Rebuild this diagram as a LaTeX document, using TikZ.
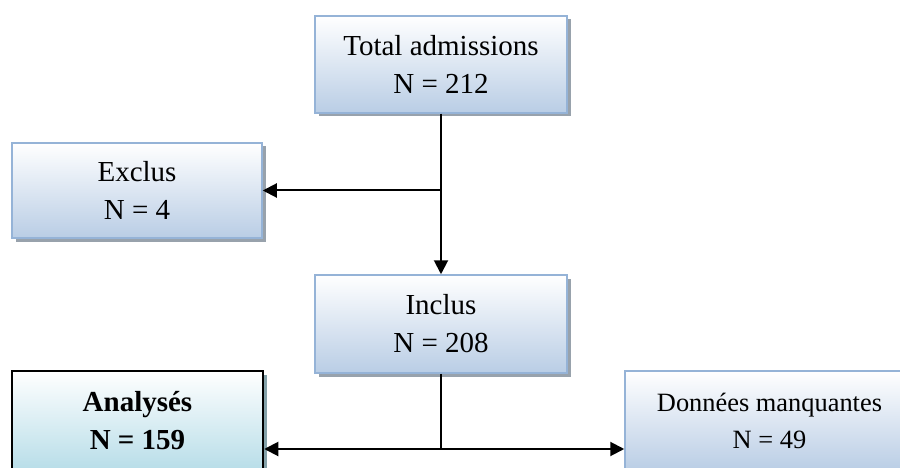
\documentclass[tikz,border=0pt]{standalone}
\usepackage{fontspec}
\setmainfont{Liberation Serif}
\usetikzlibrary{shadows,arrows.meta}

\definecolor{boitebord}{HTML}{95B3D7}
\definecolor{boitefond}{HTML}{B9CDE5}
\definecolor{ombre}{HTML}{98A2AC}
\definecolor{analysefond}{HTML}{B7DDE8}
\definecolor{analyseombre}{HTML}{84A2AA}

\tikzset{
  boite/.style={draw=boitebord, line width=1.5pt, top color=white, bottom color=boitefond,
    minimum width=252pt, minimum height=97pt, inner sep=0pt, align=center,
    font=\fontsize{29}{38}\selectfont,
    drop shadow={shadow xshift=3.5pt, shadow yshift=-3.5pt, fill=ombre, opacity=1}},
  boitefinale/.style={boite, draw=black, line width=2.5pt, bottom color=analysefond,
    drop shadow={shadow xshift=4pt, shadow yshift=-4pt, fill=analyseombre, opacity=1}},
  fleche/.style={line width=2pt, -{Triangle[length=14pt,width=14pt]}},
  trait/.style={line width=2pt}
}

\begin{document}
\begin{tikzpicture}[x=1pt,y=1pt]
  % Cadre
  \clip (0,0) rectangle (900,-468);

  % Boites
  \node[boite] (total) at (441,-64.5) {Total admissions\\N = 212};
  \node[boite, minimum width=250pt, minimum height=95pt] (exclus) at (137,-190.5) {Exclus\\N = 4};
  \node[boite, minimum height=98pt] (inclus) at (441,-324) {Inclus\\N = 208};
  \node[boitefinale, minimum width=251pt, minimum height=100pt] (analyses) at (137.5,-421) {\textbf{Analysés}\\\textbf{N = 159}};
  \node[boite, minimum width=289pt, minimum height=100pt, font=\fontsize{26.4}{37}\selectfont] (manquantes) at (769.5,-421) {Données manquantes\\N = 49};

  % Embranchements
  \coordinate (embr1) at (total.south |- exclus.east);
  \coordinate (embr2) at (441,-449);

  % Fleches
  \draw[fleche] (total.south) -- (inclus.north);
  \draw[fleche] (embr1) -- (exclus.east);
  \draw[trait] (inclus.south) -- (embr2);
  \draw[fleche] (embr2) -- (analyses.east |- embr2);
  \draw[fleche] (embr2) -- (manquantes.west |- embr2);
\end{tikzpicture}
\end{document}
